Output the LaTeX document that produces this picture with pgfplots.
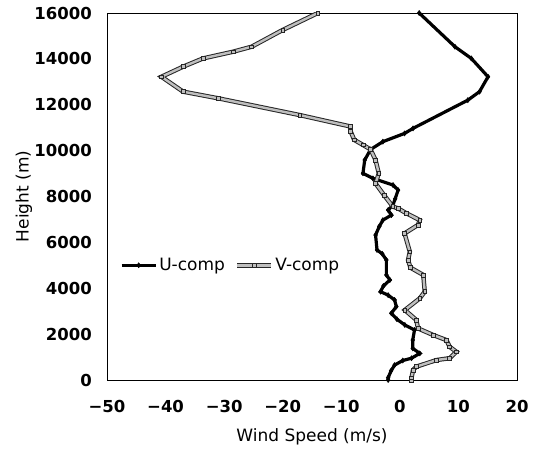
\documentclass[border=0pt]{standalone}
\usepackage{fontspec}
\setmainfont{DejaVu Sans}
\usepackage{pgfplots}
\pgfplotsset{compat=1.18}
\begin{document}
\begin{tikzpicture}
\begin{axis}[
  scale only axis,
  width=410pt, height=367pt,
  xmin=-50, xmax=20, ymin=0, ymax=16000,
  scaled x ticks=false, scaled y ticks=false,
  xtick={-50,-40,-30,-20,-10,0,10,20},
  xticklabels={−50,−40,−30,−20,−10,0,10,20},
  ytick={0,2000,4000,6000,8000,10000,12000,14000,16000},
  yticklabels={0,2000,4000,6000,8000,10000,12000,14000,16000},
  major tick length=0pt,
  axis line style={line width=0.6pt},
  xticklabel style={font=\fontsize{16.5}{19}\selectfont\bfseries, inner sep=0pt, anchor=north, yshift=-20pt},
  yticklabel style={font=\fontsize{16.5}{19}\selectfont\bfseries, inner sep=0pt, anchor=east, xshift=-15pt},
  xlabel={Wind Speed (m/s)},
  ylabel={Height (m)},
  xlabel style={font=\fontsize{17}{20}\selectfont, at={(axis description cs:0.5,-0.1553)}, anchor=center},
  ylabel style={font=\fontsize{17}{20}\selectfont, at={(axis description cs:-0.2024,0.5)}, anchor=center},
  legend columns=2,
  legend style={at={(axis cs:-47.8,5000)}, anchor=west, draw=none, fill=none, inner sep=0pt,
    font=\fontsize{17}{20}\selectfont,
    /tikz/every even column/.append style={column sep=8pt}},
  legend image code/.code={\draw[mark repeat=2,mark phase=2,#1] plot coordinates {(0pt,0pt)(17pt,0pt)(34pt,0pt)};},
]
\addplot[black, line width=3.2pt, mark=diamond*, mark size=2.6pt, mark options={solid, fill=black, line width=0.4pt}] coordinates {
(-2.0,0) (-2.0,100) (-1.5,400) (-0.9,650) (0.5,850) (2.0,950) (3.4,1160) (2.2,1380) (2.2,1740) (2.5,2180) (0.85,2400) (-0.5,2650) (-1.45,2910) (-0.6,3200) (-0.9,3490) (-2.0,3700) (-3.3,3850) (-2.8,4100) (-1.7,4360) (-2.3,4580) (-2.3,5230) (-3.0,5500) (-3.9,5670) (-4.15,6320) (-3.5,6700) (-2.9,6970) (-1.45,7190) (-2.0,7410) (-1.17,7630) (-0.8,7900) (-0.3,8280) (-1.17,8500) (-4.6,8790) (-6.3,9010) (-6.0,9590) (-5.0,10050) (-2.9,10390) (0.8,10750) (2.25,10970) (11.6,12200) (13.6,12570) (15.05,13220) (12.2,14020) (9.4,14530) (3.3,16000)
};
\addlegendentry{U-comp}
\addplot[draw=black!85, line width=1pt, double=gray!50, double distance=2.4pt, mark=square*, mark size=1.9pt, mark options={solid, draw=black!85, fill=gray!50, line width=0.6pt}] coordinates {
(2.0,0) (2.0,100) (2.25,440) (2.8,580) (6.25,870) (8.5,950) (9.65,1230) (8.5,1450) (7.95,1740) (5.7,1960) (3.1,2250) (2.8,2620) (0.85,3050) (3.4,3560) (4.25,3850) (4.0,4580) (1.8,4900) (1.4,5230) (1.7,5590) (0.8,6390) (3.1,6760) (3.4,6970) (1.1,7270) (-0.3,7480) (-1.2,7560) (-2.7,8060) (-4.15,8570) (-3.6,9010) (-4.15,9590) (-5.0,10050) (-6.3,10250) (-7.8,10470) (-8.4,10840) (-8.4,11050) (-17.1,11550) (-31.0,12280) (-37.0,12570) (-40.7,13220) (-37.0,13660) (-33.6,14020) (-28.5,14310) (-25.3,14530) (-20.0,15260) (-14.0,16000)
};
\addlegendentry{V-comp}
\end{axis}
\pgfresetboundingbox
\path ([shift={(-107pt,-69pt)}]current axis.south west) rectangle ([shift={(27pt,13pt)}]current axis.north east);
\end{tikzpicture}
\end{document}
